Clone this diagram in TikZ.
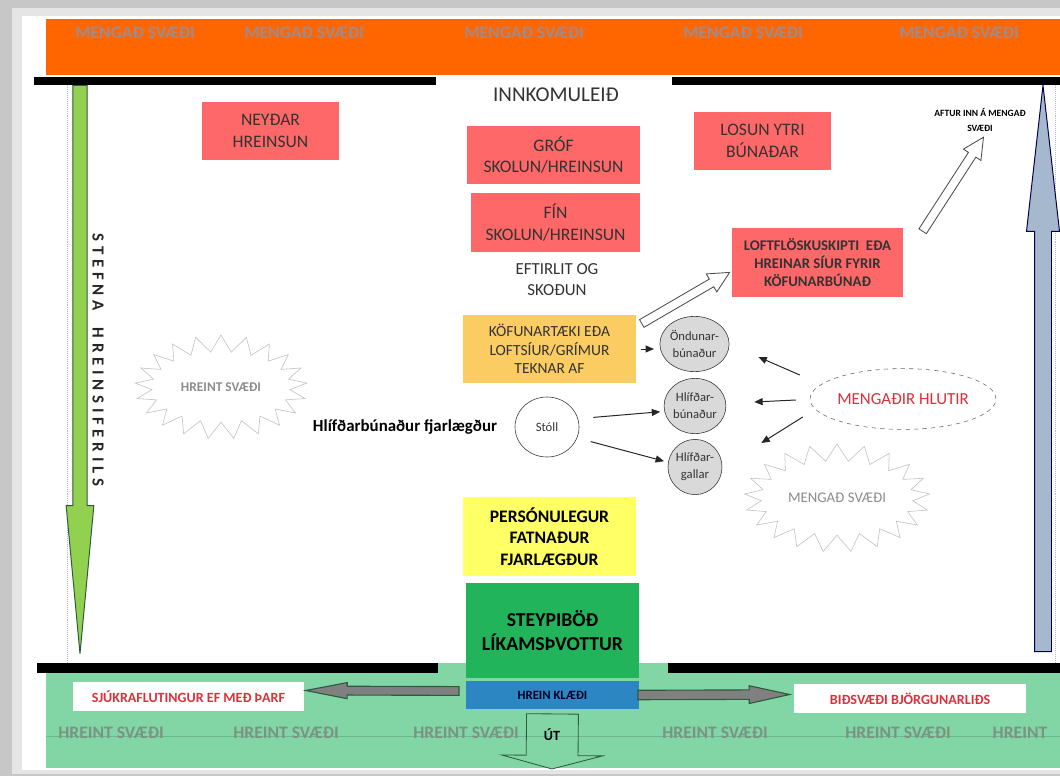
\documentclass[tikz,border=0pt]{standalone}
\usepackage{fontspec}
\setmainfont{Carlito}
\usetikzlibrary{shapes.arrows,shapes.geometric,shapes.symbols,arrows.meta}

\definecolor{boxred}{RGB}{255,104,104}
\definecolor{boxamber}{RGB}{250,204,98}
\definecolor{boxyellow}{RGB}{255,255,102}
\definecolor{boxgreen}{RGB}{33,180,90}
\definecolor{boxblue}{RGB}{44,134,194}
\definecolor{dirtyzone}{RGB}{255,102,0}
\definecolor{cleanzone}{RGB}{130,214,166}
\definecolor{flowgreen}{RGB}{146,208,80}
\definecolor{flowblue}{RGB}{166,184,206}
\definecolor{zonetext}{RGB}{160,138,138}
\definecolor{cleantext}{RGB}{122,148,132}
\definecolor{warnred}{RGB}{222,48,58}
\definecolor{itemgray}{RGB}{217,217,217}
\definecolor{edgegreen}{RGB}{46,90,62}

\tikzset{
  stage/.style={rectangle, inner sep=0pt, align=center, text=black!80,
    font=\fontsize{12.5}{15.5}\selectfont},
  redstage/.style={stage, fill=boxred},
  item/.style={ellipse, draw=black!80, fill=itemgray, inner sep=0pt,
    minimum width=1.33cm, minimum height=1.38cm, align=center,
    font=\fontsize{9}{12}\selectfont, text=black!80},
  zone/.style={starburst, draw=black!25, fill=white, starburst points=21,
    starburst point height=0.42cm, random starburst=0, text=black!45,
    minimum width=4.3cm, minimum height=2.6cm},
  signbox/.style={rectangle, fill=white, inner sep=0pt, text=warnred,
    font=\fontsize{10}{12}\selectfont\bfseries},
  blockarrow/.style={single arrow, sloped, allow upside down, pos=0, anchor=tail,
    inner xsep=0pt, single arrow head indent=0pt},
  hollowarrow/.style={blockarrow, draw=black!70, fill=white, line width=0.6pt,
    inner ysep=0.1cm, single arrow head extend=0.15cm, single arrow tip angle=53},
  grayarrow/.style={blockarrow, draw=edgegreen, fill=black!50, line width=0.8pt,
    inner ysep=0.1cm, single arrow head extend=0.1cm},
  pointer/.style={-{Triangle[length=6pt,width=5pt]}, line width=0.7pt, black!85},
}

\begin{document}
\begin{tikzpicture}[x=0.025cm, y=-0.025cm]
\useasboundingbox (0,0) rectangle (1060,776);

% page
\fill[black!22] (0,0) rectangle (1060,776);
\fill[black!10] (12,8) rectangle (1060,774);
\fill[white] (22,16) rectangle (1060,770);

% zones
\fill[dirtyzone] (46,19) rectangle (1060,75);
\foreach \x in {135,304,524,743,959}
  \node[text=zonetext, font=\fontsize{12.5}{14}\selectfont\bfseries] (dirty\x) at (\x,33) {MENGAÐ SVÆÐI};
\fill[cleanzone] (46,663) rectangle (1060,768);
\draw[cleanzone!85!black, line width=0.3pt] (46,736) -- (1060,736);
\foreach \x in {111,286,466,715,898}
  \node[text=cleantext, font=\fontsize{12.5}{14}\selectfont\bfseries] (clean\x) at (\x,733) {HREINT SVÆÐI};
\node[text=cleantext, font=\fontsize{12.5}{14}\selectfont\bfseries] (clean1022) at (1020,733) {HREINT};

% margins
\draw[blue!30, densely dotted, line width=0.4pt] (67,85) -- (67,663);
\draw[blue!30, densely dotted, line width=0.4pt] (1055,85) -- (1055,663);

% walls
\fill[black] (34,77) rectangle (436,85);
\fill[black] (672,77) rectangle (1060,85);
\fill[black] (37,663) rectangle (438,673);
\fill[black] (668,663) rectangle (1060,673);

% direction arrows
\coordinate (gtail) at (80,85);
\coordinate (gtip) at (80,653);
\path (gtail) -- node[blockarrow, draw=edgegreen, fill=flowgreen, line width=0.7pt,
  minimum height=14.2cm, inner ysep=0.167cm, single arrow head extend=0.167cm,
  single arrow tip angle=10.7] (green) {} (gtip);
\node[rotate=-90, text=black!85, font=\fontsize{12}{14}\selectfont\bfseries\addfontfeatures{LetterSpace=28}]
  (stefna) at (98,360) {STEFNA\hspace{6pt} HREINSIFERILS};

\coordinate (btail) at (1043,652);
\coordinate (btip) at (1043,86);
\path (btail) -- node[blockarrow, draw=black!70!blue, fill=flowblue, line width=0.7pt,
  minimum height=14.15cm, inner ysep=0.2cm, single arrow head extend=0.2cm,
  single arrow tip angle=12.9] (blue) {} (btip);

% left one
\node[redstage, minimum width=3.43cm, minimum height=1.45cm] (neydar) at (270.5,131) {NEYÐAR\\HREINSUN};
\node[zone] (hreint) at (221,387) {\fontsize{9.5}{11}\selectfont\bfseries HREINT SVÆÐI};
\node[text=black, font=\fontsize{12}{14}\selectfont\bfseries] (fjarl) at (405,427) {Hlífðarbúnaður fjarlægður};

% middle one
\node[text=black!80, font=\fontsize{15}{17}\selectfont] (innkoma) at (556,95) {INNKOMULEIÐ};
\node[redstage, minimum width=4.33cm, minimum height=1.45cm] (grof) at (553.5,155) {GRÓF\\SKOLUN/HREINSUN};
\node[redstage, minimum width=4.23cm, minimum height=1.48cm] (fin) at (555.5,222.5) {FÍN\\SKOLUN/HREINSUN};
\node[stage, font=\fontsize{12}{15}\selectfont] (eftirlit) at (557,280) {EFTIRLIT OG\\SKOÐUN};
\node[stage, fill=boxamber, minimum width=4.33cm, minimum height=1.7cm,
  font=\fontsize{11}{13.2}\selectfont] (kofun) at (549.5,349) {KÖFUNARTÆKI EÐA\\LOFTSÍUR/GRÍMUR\\TEKNAR AF};
\node[ellipse, draw=black!80, fill=white, inner sep=0pt, minimum width=1.6cm, minimum height=1.5cm,
  font=\fontsize{9}{11}\selectfont, text=black!80] (stoll) at (547,427) {Stóll};
\node[item] (ondun) at (694.5,344) {Öndunar-\\búnaður};
\node[item] (hbun) at (695,406) {Hlífðar-\\búnaður};
\node[item] (gallar) at (695,467) {Hlífðar-\\gallar};
\node[stage, fill=boxyellow, minimum width=4.33cm, minimum height=1.98cm, text=black,
  font=\fontsize{12.5}{15.3}\selectfont\bfseries] (person) at (549.5,536.5) {PERSÓNULEGUR\\FATNAÐUR\\FJARLÆGÐUR};
\node[stage, fill=boxgreen, minimum width=4.33cm, minimum height=2.38cm, text=black,
  font=\fontsize{14}{17}\selectfont\bfseries] (sturta) at (552.5,630.5) {STEYPIBÖÐ\\LÍKAMSÞVOTTUR};
\node[stage, fill=boxblue, minimum width=4.33cm, minimum height=0.7cm, text=black!85!blue,
  font=\fontsize{9}{11}\selectfont\bfseries] (klaedi) at (552.5,695) {HREIN KLÆÐI};

% right one
\node[redstage, minimum width=3.43cm, minimum height=1.45cm] (losun) at (762.5,141) {LOSUN YTRI\\BÚNAÐAR};
\node[redstage, minimum width=4.28cm, minimum height=1.73cm,
  font=\fontsize{10.5}{12.8}\selectfont\bfseries] (loft) at (817.5,262.5) {LOFTFLÖSKUSKIPTI~~EÐA\\HREINAR SÍUR FYRIR\\KÖFUNARBÚNAÐ};
\node[align=center, text=black, font=\fontsize{6.8}{10}\selectfont\bfseries] (aftur) at (980,120) {AFTUR INN Á MENGAÐ\\SVÆÐI};
\node[ellipse, draw=black!60, dashed, inner sep=0pt, minimum width=3.95cm, minimum height=1.52cm,
  text=warnred, font=\fontsize{12}{14}\selectfont] (mengadir) at (903,399) {MENGAÐIR HLUTIR};
\node[zone, minimum width=4.35cm, minimum height=2.7cm] (mengad) at (837,498) {\fontsize{10.5}{12}\selectfont MENGAÐ SVÆÐI};

% exits
\node[signbox, minimum width=5.78cm, minimum height=0.73cm] (sjukra) at (188.5,696.5) {SJÚKRAFLUTINGUR EF MEÐ ÞARF};
\node[signbox, minimum width=5.8cm, minimum height=0.73cm] (bid) at (910,698.5) {BIÐSVÆÐI BJÖRGUNARLIÐS};

% hollow arrows
\path ([shift={(5,9)}]kofun.north east) -- node[hollowarrow, minimum height=2.54cm] (tilloft) {} ([shift={(-3,10.5)}]loft.west);
\path ([shift={(19,4)}]loft.north east) -- node[hollowarrow, minimum height=2.8cm] (tilbaka) {} (983,138);
\path ([shift={(-6,-4)}]klaedi.west) -- node[grayarrow, minimum height=3.83cm, inner ysep=0.096cm,
  single arrow head extend=0.091cm, single arrow tip angle=22] (tilsjukra) {} ([shift={(3,-6)}]sjukra.east);
\path ([shift={(-2,0)}]klaedi.east) -- node[grayarrow, minimum height=3.79cm, inner ysep=0.104cm,
  single arrow head extend=0.104cm, single arrow tip angle=24.8] (tilbid) {} ([shift={(-6,-4)}]bid.west);
\coordinate (ut) at (552,767);
\path ([yshift=-3]klaedi.south) -- node[blockarrow, draw=edgegreen, line width=0.6pt, minimum height=1.375cm,
  inner ysep=0.6375cm, single arrow head extend=0.6125cm, single arrow tip angle=150] (utarrow) {} (ut);
\node[text=black, font=\fontsize{10}{12}\selectfont\bfseries] (uttext) at (552,735) {ÚT};

% pointers
\draw[pointer, shorten <=3pt, shorten >=4pt] (kofun.east) -- (kofun.east -| ondun.west);
\draw[pointer, shorten <=11pt, shorten >=3pt] (stoll.15) -- (hbun.190);
\draw[pointer, shorten <=10pt, shorten >=3pt] (stoll.-20) -- (gallar.170);
\draw[pointer] ([shift={(-10,-24)}]mengadir.west) -- ([shift={(29,13)}]ondun.east);
\draw[pointer] ([shift={(-14,1)}]mengadir.west) -- ([shift={(28,-4)}]hbun.east);
\draw[pointer] ([shift={(-7,18)}]mengadir.west) -- ([shift={(39,-24)}]gallar.east);

\end{tikzpicture}
\end{document}
